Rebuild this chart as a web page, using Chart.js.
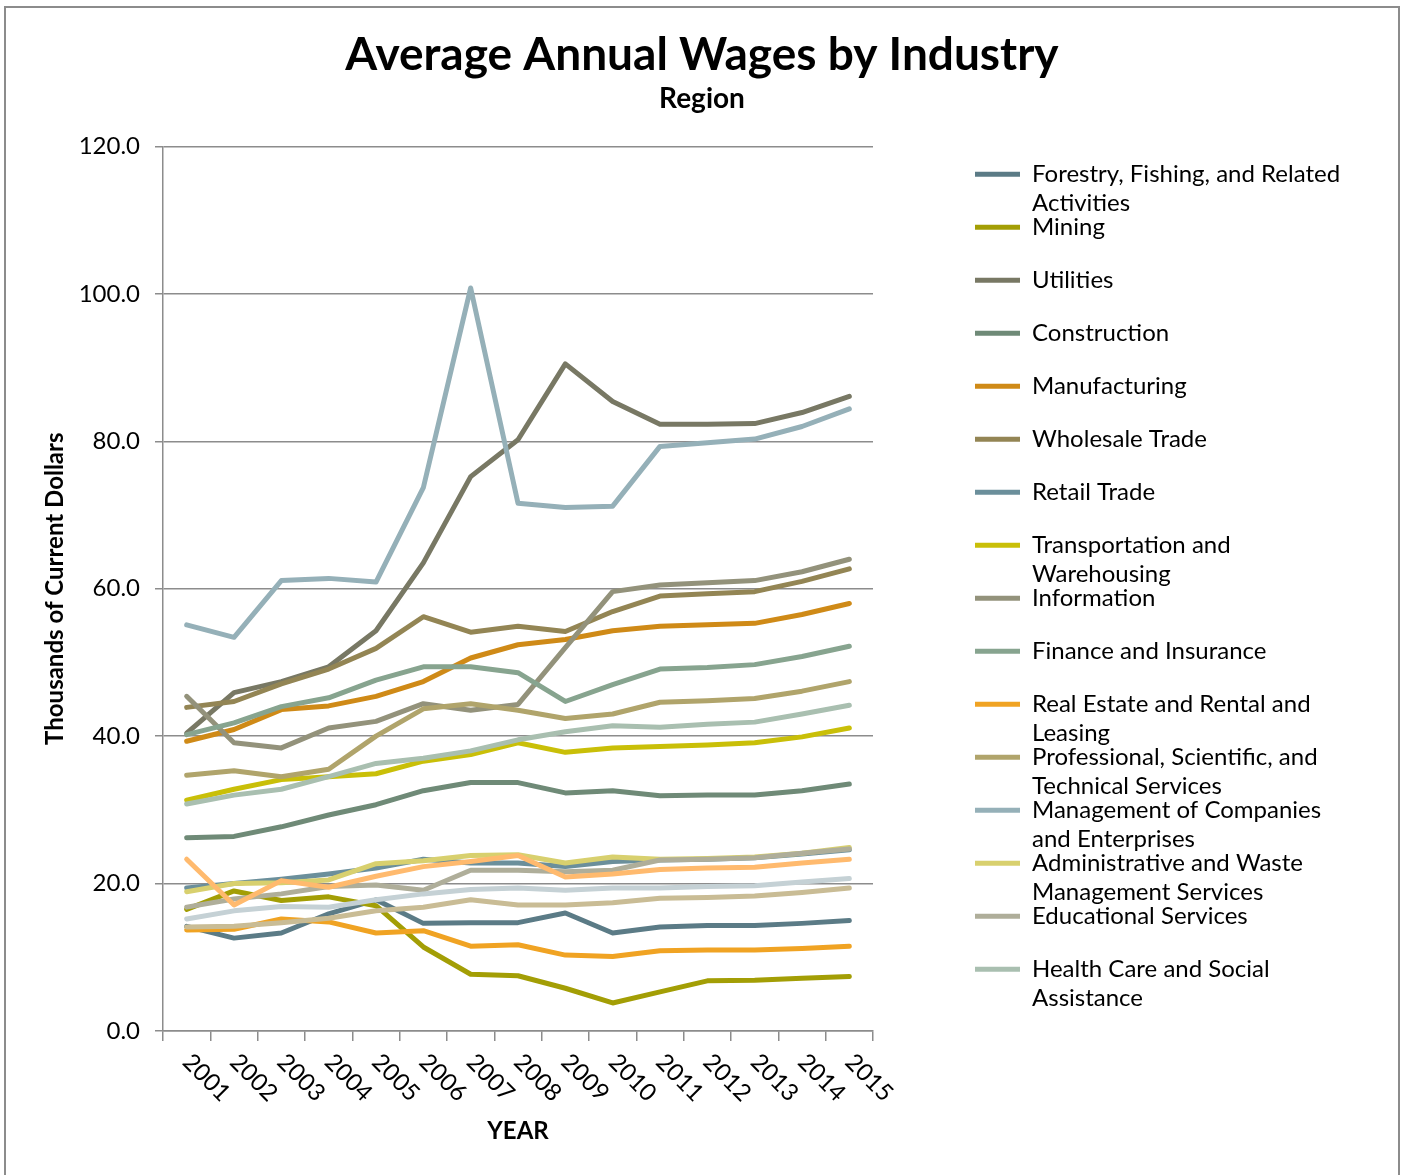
<!DOCTYPE html>
<html>
<head>
<meta charset="utf-8">
<title>Average Annual Wages by Industry</title>
<script src="https://cdn.jsdelivr.net/npm/chart.js@4.4.0/dist/chart.umd.min.js"></script>
<style>
  html, body { margin: 0; padding: 0; background: #fff; overflow: hidden; }
  #frame { position: absolute; left: 4px; top: 6px; width: 1392px; height: 1180px; border: 2px solid #8c8c8c; }
  canvas { display: block; }
</style>
</head>
<body>
<div id="frame"><canvas id="wages" width="1392" height="1167"></canvas></div>
<script>
const years = ['2001','2002','2003','2004','2005','2006','2007','2008','2009','2010','2011','2012','2013','2014','2015'];

// thousands of current dollars
const forestry       = [14.2, 12.6, 13.3, 15.9, 17.8, 14.6, 14.7, 14.7, 16.0, 13.3, 14.1, 14.3, 14.3, 14.6, 15.0];
const mining         = [16.5, 19.0, 17.7, 18.2, 17.0, 11.4, 7.7, 7.5, 5.8, 3.8, 5.3, 6.8, 6.9, 7.15, 7.4];
const utilities      = [40.4, 45.9, 47.4, 49.4, 54.3, 63.5, 75.2, 80.2, 90.5, 85.4, 82.3, 82.3, 82.4, 83.9, 86.1];
const construction   = [26.2, 26.4, 27.7, 29.3, 30.7, 32.6, 33.7, 33.7, 32.3, 32.6, 31.9, 32.0, 32.0, 32.6, 33.5];
const manufacturing  = [39.3, 40.9, 43.6, 44.1, 45.4, 47.4, 50.6, 52.4, 53.1, 54.3, 54.9, 55.1, 55.3, 56.5, 58.0];
const wholesale      = [43.9, 44.7, 47.1, 49.1, 51.9, 56.2, 54.1, 54.9, 54.2, 56.9, 59.0, 59.3, 59.6, 61.0, 62.7];
const retail         = [19.4, 20.0, 20.6, 21.3, 22.1, 23.3, 22.8, 22.8, 22.3, 23.0, 23.2, 23.3, 23.5, 24.0, 24.6];
const transportation = [31.3, 32.8, 34.1, 34.5, 34.9, 36.6, 37.5, 39.1, 37.8, 38.4, 38.6, 38.8, 39.1, 39.9, 41.1];
const information    = [45.4, 39.1, 38.4, 41.1, 42.0, 44.4, 43.5, 44.3, 52.0, 59.6, 60.5, 60.8, 61.1, 62.3, 64.0];
const finance        = [40.2, 41.8, 44.0, 45.2, 47.6, 49.4, 49.4, 48.6, 44.7, 47.0, 49.1, 49.3, 49.7, 50.8, 52.2];
const realEstate     = [13.7, 13.8, 15.2, 14.8, 13.3, 13.6, 11.5, 11.7, 10.3, 10.1, 10.9, 11.0, 11.0, 11.2, 11.5];
const professional   = [34.7, 35.3, 34.5, 35.5, 40.0, 43.7, 44.4, 43.5, 42.4, 43.0, 44.6, 44.8, 45.1, 46.1, 47.4];
const management     = [55.1, 53.4, 61.1, 61.4, 60.9, 73.7, 100.8, 71.6, 71.0, 71.2, 79.3, 79.8, 80.3, 82.0, 84.4];
const administrative = [18.9, 20.0, 20.1, 20.5, 22.7, 23.1, 23.8, 23.9, 22.8, 23.6, 23.3, 23.4, 23.6, 24.1, 24.9];
const educational    = [16.8, 17.9, 18.6, 19.6, 19.8, 19.1, 21.8, 21.8, 21.6, 21.8, 23.2, 23.3, 23.5, 24.1, 24.7];
const healthCare     = [30.8, 32.0, 32.8, 34.5, 36.3, 37.0, 38.0, 39.5, 40.6, 41.4, 41.2, 41.6, 41.9, 43.0, 44.2];
const arts           = [23.3, 17.1, 20.4, 19.5, 21.0, 22.3, 23.0, 23.8, 20.9, 21.3, 21.9, 22.1, 22.2, 22.8, 23.3];
const accommodation  = [14.1, 14.2, 14.7, 15.3, 16.3, 16.8, 17.8, 17.1, 17.1, 17.4, 18.0, 18.1, 18.3, 18.8, 19.4];
const otherServices  = [15.2, 16.3, 16.9, 16.8, 17.8, 18.6, 19.2, 19.4, 19.1, 19.4, 19.4, 19.6, 19.7, 20.2, 20.7];

const seriesData = [forestry, mining, utilities, construction, manufacturing, wholesale, retail,
  transportation, information, finance, realEstate, professional, management, administrative,
  educational, healthCare, arts, accommodation, otherServices];

// legend text, already wrapped the way the legend shows it
const legendLines = [
  ['Forestry, Fishing, and Related', 'Activities'],
  ['Mining'],
  ['Utilities'],
  ['Construction'],
  ['Manufacturing'],
  ['Wholesale Trade'],
  ['Retail Trade'],
  ['Transportation and', 'Warehousing'],
  ['Information'],
  ['Finance and Insurance'],
  ['Real Estate and Rental and', 'Leasing'],
  ['Professional, Scientific, and', 'Technical Services'],
  ['Management of Companies', 'and Enterprises'],
  ['Administrative and Waste', 'Management Services'],
  ['Educational Services'],
  ['Health Care and Social', 'Assistance']
];
// these three are plotted but the legend runs out of room for them
const unlistedNames = [
  ['Arts, Entertainment, and Recreation'],
  ['Accommodation and Food Services'],
  ['Other Services (except Public Administration)']
];

const colors = ['#5b7b86', '#a39e05', '#787864', '#6f8a77', '#cf8a17', '#938554', '#6b8f9b',
  '#c9bf08', '#93927b', '#87a48f', '#f0a323', '#b0a46b', '#95b0b8', '#d8d06e',
  '#afae9a', '#a9bfb0', '#ffba6e', '#c9bc95', '#c5d1d5'];

const AXIS_GREY = '#8c8c8c';
const LEGEND_FONT = 24;
const LEGEND_PAD = -5;   // pulls the 2-line entries together, 29px lines on a 53px pitch
const PLOT_RIGHT = 867;
const LEGEND_X = 964;    // where the legend lines start

// Excel style year labels: turned 45 degrees clockwise, hanging below each category
const yearLabels = {
  id: 'yearLabels',
  afterDraw(chart) {
    const {ctx, chartArea, scales: {x}} = chart;
    ctx.save();
    ctx.font = '24px Lato';
    ctx.fillStyle = '#000';
    ctx.textAlign = 'left';
    ctx.textBaseline = 'middle';
    x.ticks.forEach((t, i) => {
      ctx.save();
      ctx.translate(x.getPixelForTick(i), chartArea.bottom + 27);
      ctx.rotate(Math.PI / 4);
      ctx.fillText(x.getLabelForValue(t.value), 0, 0);
      ctx.restore();
    });
    ctx.restore();
  }
};

let myChart;

const setup = () => {
  const ctxt = document.getElementById('wages').getContext('2d');

  // legend width follows its longest line; the same padding goes on the left
  // so the title stays centred on the canvas
  const longest = legendLines.flat().reduce((a, b) => a.length > b.length ? a : b);
  ctxt.font = `${LEGEND_FONT}px Lato`;
  const legendTextWidth = ctxt.measureText(longest).width;
  const legendLeft = LEGEND_X - LEGEND_PAD;
  const legendWidth = LEGEND_PAD + 50 + LEGEND_FONT / 2 + legendTextWidth + 10;
  const sidePad = Math.max(0, 1392 - legendLeft - legendWidth);

  const allNames = legendLines.concat(unlistedNames);
  const datasets = seriesData.map((data, i) => ({
    label: allNames[i].length > 1 ? allNames[i] : [allNames[i][0], ''],
    data: data,
    borderColor: colors[i],
    backgroundColor: colors[i],
    borderWidth: 5,
    borderCapStyle: 'round',
    borderJoinStyle: 'round',
    pointRadius: 0,
    pointHoverRadius: 0,
    tension: 0,
    fill: false,
    order: -i   // later series paint over earlier ones
  }));

  myChart = new Chart(ctxt, {
    type: 'line',
    data: { labels: years, datasets: datasets },
    plugins: [yearLabels],
    options: {
      responsive: false,
      animation: false,
      devicePixelRatio: 1,
      layout: { padding: { left: sidePad, top: 0, bottom: 0, right: sidePad } },
      plugins: {
        tooltip: { enabled: false },
        title: {
          display: true,
          text: 'Average Annual Wages by Industry',
          color: '#000',
          font: { family: 'Lato', size: 46, weight: 'bold' },
          padding: { top: 19.4, bottom: 0 }
        },
        subtitle: {
          display: true,
          text: 'Region',
          color: '#000',
          font: { family: 'Lato', size: 28, weight: 'bold' },
          padding: { top: 0, bottom: 30.2 }
        },
        legend: {
          position: 'right',
          align: 'center',
          fullSize: false,
          maxWidth: 600,
          labels: {
            usePointStyle: true,
            pointStyle: 'line',
            pointStyleWidth: 50,
            padding: LEGEND_PAD,
            color: '#000',
            font: { family: 'Lato', size: LEGEND_FONT, lineHeight: '29px' },
            filter: (item) => item.datasetIndex < legendLines.length,
            sort: (a, b) => a.datasetIndex - b.datasetIndex
          }
        }
      },
      scales: {
        x: {
          offset: true,
          grid: { display: true, drawOnChartArea: false, offset: true, tickLength: 10, color: AXIS_GREY, lineWidth: 1.5 },
          border: { color: AXIS_GREY, width: 1.5 },
          ticks: { display: false },
          title: {
            display: true,
            text: 'YEAR',
            color: '#000',
            font: { family: 'Lato', size: 24, weight: 'bold' },
            padding: { top: 0, bottom: 29.6 }
          },
          afterFit: (scale) => { scale.height = 144; }
        },
        y: {
          min: 0,
          max: 120,
          ticks: {
            stepSize: 20,
            padding: 15,
            color: '#000',
            font: { family: 'Lato', size: 24 },
            callback: (v) => v.toFixed(1)
          },
          grid: { color: AXIS_GREY, lineWidth: 1.5, tickLength: 8 },
          border: { color: AXIS_GREY, width: 1.5 },
          title: {
            display: true,
            text: 'Thousands of Current Dollars',
            color: '#000',
            font: { family: 'Lato', size: 24, weight: 'bold' },
            padding: { top: 34.6 - sidePad, bottom: 0 }
          },
          afterFit: (scale) => { scale.width = 157 - sidePad; }
        },
        // empty axis that keeps the legend clear of the plot
        gap: {
          type: 'linear',
          position: 'right',
          grid: { display: false },
          border: { display: false },
          ticks: { display: false },
          afterFit: (scale) => { scale.width = legendLeft - PLOT_RIGHT; }
        }
      }
    }
  });
};

window.addEventListener('DOMContentLoaded', () => {
  Promise.all([
    document.fonts.load('24px Lato'),
    document.fonts.load('bold 24px Lato')
  ]).then(setup, setup);
});
</script>
</body>
</html>
